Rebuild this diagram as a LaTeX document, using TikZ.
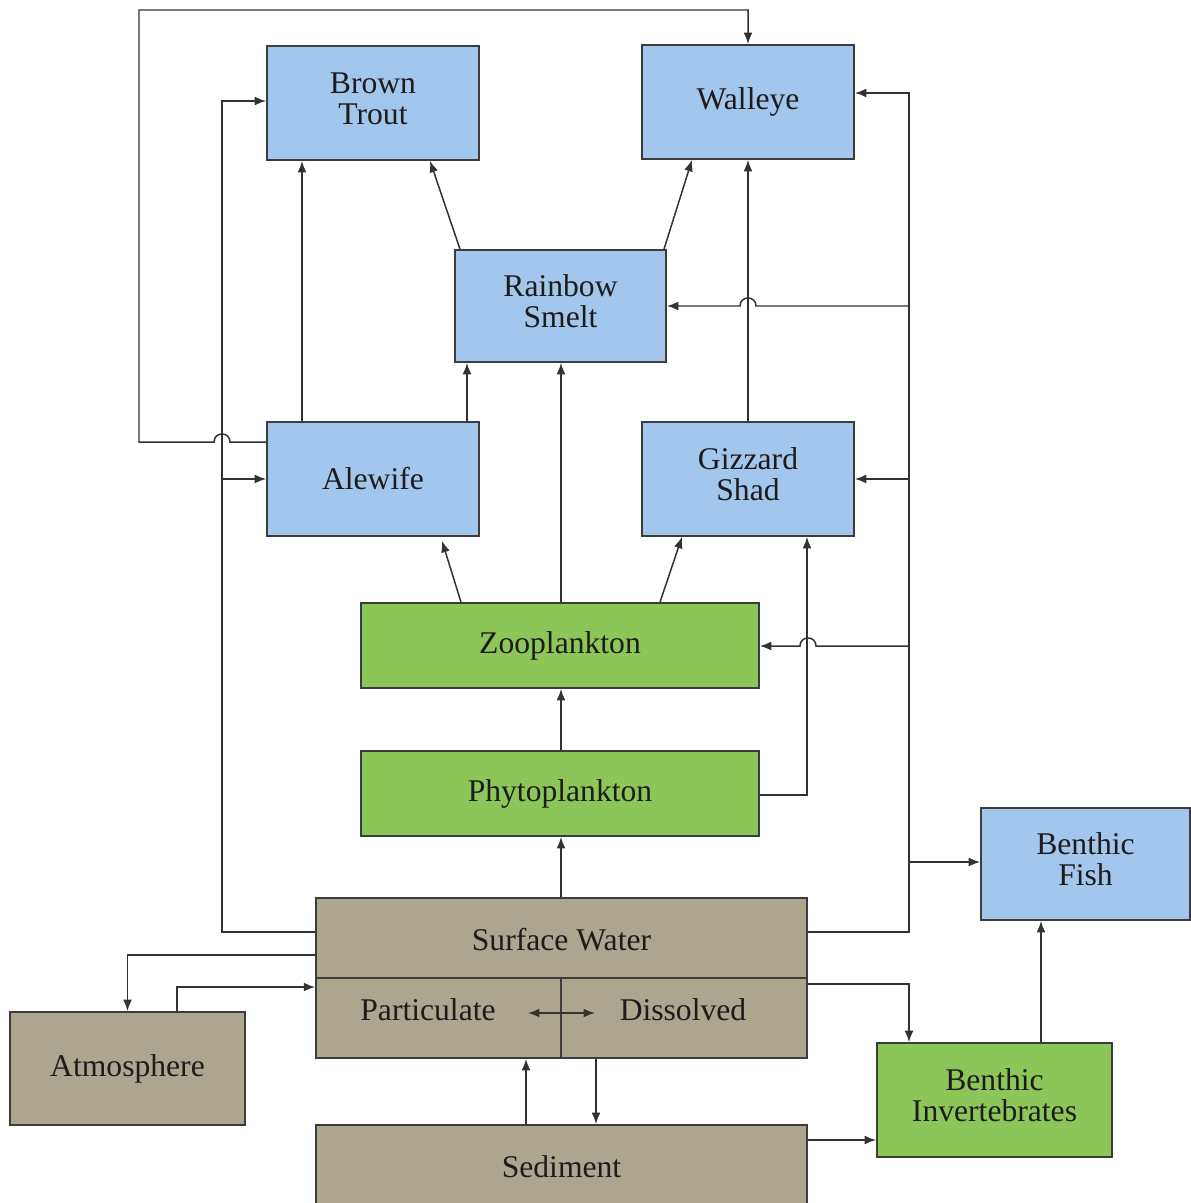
\documentclass[tikz,border=0pt]{standalone}
\usepackage{fontspec}
\setmainfont{Liberation Serif}
\usetikzlibrary{arrows.meta,calc}
\definecolor{fblue}{RGB}{163,198,236}
\definecolor{fgreen}{RGB}{141,198,88}
\definecolor{ftan}{RGB}{171,166,141}
\definecolor{edge}{RGB}{60,60,60}
\definecolor{wire}{RGB}{50,50,50}
\definecolor{ink}{RGB}{28,28,28}
\begin{document}
\begin{tikzpicture}[x=0.02cm,y=-0.02cm,
  box/.style={draw=edge,line width=1pt,inner sep=0pt,align=center,text=ink,
    font=\fontsize{18}{17.5}\selectfont},
  bluebox/.style={box,fill=fblue},
  greenbox/.style={box,fill=fgreen},
  tanbox/.style={box,fill=ftan},
  wirestyle/.style={draw=wire,line width=0.85pt},
  arr/.style={wirestyle,-{Latex[length=6.5pt,width=5pt]}},
  arrtwo/.style={wirestyle,{Latex[length=6.5pt,width=5pt]}-{Latex[length=6.5pt,width=5pt]}},
  lbl/.style={text=ink,font=\fontsize{18}{17.5}\selectfont,inner sep=0pt},
  up/.style={text depth=0pt}
]
\useasboundingbox[fill=white] (0,0) rectangle (1190,1203);

% nodes
\node[bluebox,minimum width=4.24cm,minimum height=2.28cm] (bt) at (373,103) {\raisebox{0.08cm}{\begin{tabular}{@{}c@{}}Brown\\Trout\end{tabular}}};
\node[bluebox,minimum width=4.24cm,minimum height=2.28cm] (wal) at (748,102) {Walleye};
\node[bluebox,minimum width=4.22cm,minimum height=2.24cm] (rs) at (560.5,306) {\raisebox{0.06cm}{\begin{tabular}{@{}c@{}}Rainbow\\Smelt\end{tabular}}};
\node[bluebox,minimum width=4.24cm,minimum height=2.28cm] (ale) at (373,479) {Alewife};
\node[bluebox,minimum width=4.24cm,minimum height=2.28cm] (gs) at (748,479) {\raisebox{0.08cm}{\begin{tabular}{@{}c@{}}Gizzard\\Shad\end{tabular}}};
\node[greenbox,minimum width=7.96cm,minimum height=1.7cm] (zoo) at (560,645.5) {Zooplankton};
\node[greenbox,minimum width=7.96cm,minimum height=1.7cm] (phy) at (560,793.5) {Phytoplankton};
\node[bluebox,minimum width=4.18cm,minimum height=2.24cm] (bf) at (1085.5,864) {\raisebox{0.06cm}{\begin{tabular}{@{}c@{}}Benthic\\Fish\end{tabular}}};
\node[tanbox,minimum width=9.82cm,minimum height=3.2cm] (sw) at (561.5,978) {};
\node[lbl] (swl) at (561.5,940) {Surface Water};
\node[lbl] (part) at (428,1010) {Particulate};
\node[lbl] (diss) at (683,1010) {Dissolved};
\node[tanbox,minimum width=4.7cm,minimum height=2.26cm] (atm) at (127.5,1068.5) {Atmosphere};
\node[tanbox,minimum width=9.82cm,minimum height=1.76cm] (sed) at (561.5,1169) {\raisebox{0.1cm}{Sediment}};
\node[greenbox,minimum width=4.7cm,minimum height=2.28cm] (bi) at (994.5,1100) {\begin{tabular}{@{}c@{}}Benthic\\Invertebrates\end{tabular}};

% surface water dividers
\draw[edge,line width=0.8pt] (sw.west |- 0,978) -- (sw.east |- 0,978);
\draw[edge,line width=0.8pt] (561,978) -- (sw.south -| 561,0);

% top loop: Alewife -> Walleye
\draw[arr] (ale.west |- 0,442) -- (230,442) .. controls (230,431.3) and (214,431.3) .. (214,442) -- (139,442) -- (139,10) -- (748,10) -- (wal.north);

% left trunk from surface water
\draw[arr] (sw.west |- 0,932) -- (222,932) -- (222,101) -- (bt.west |- 0,101);
\draw[arr] (222,479) -- (ale.west);

% surface water <-> atmosphere
\draw[arr] (sw.west |- 0,955) -| (atm.north);
\draw[arr] (atm.north -| 177,0) |- (sw.west |- 0,987);

% particulate <-> dissolved
\coordinate (pd1) at (528,1013);
\coordinate (pd2) at (595,1013);
\draw[arrtwo] (pd1) -- (pd2);

% sediment exchange
\draw[arr] (sed.north -| 526,0) -- (sw.south -| 526,0);
\draw[arr] (sw.south -| 596,0) -- (sed.north -| 596,0);
\draw[arr] (sed.east |- 0,1140) -- (bi.west |- 0,1140);
\draw[arr] (sw.east |- 0,984) -| (bi.north -| 909,0);
\draw[arr] (bi.north -| 1041,0) -- (bf.south -| 1041,0);

% right trunk from surface water
\draw[arr] (sw.east |- 0,932) -| (909,93) -- (wal.east |- 0,93);
\draw[arr] (909,306) -- (756,306) .. controls (756,295.3) and (740,295.3) .. (740,306) -- (rs.east |- 0,306);
\draw[arr] (909,479) -- (gs.east |- 0,479);
\draw[arr] (909,646) -- (816,646) .. controls (816,635.3) and (800,635.3) .. (800,646) -- (zoo.east |- 0,646);
\draw[arr] (909,862) -- (bf.west |- 0,862);

% food web links
\draw[arr] (gs.north) -- (wal.south);
\draw[arr] (phy.east |- 0,795) -| (gs.south -| 807,0);
\draw[arr] (ale.north -| 302,0) -- (bt.south -| 302,0);
\draw[arr] (ale.north -| 467,0) -- (rs.south -| 467,0);
\draw[arr] (rs.north -| 460,0) -- (bt.south -| 430,0);
\draw[arr] (rs.north -| 664,0) -- (wal.south -| 692,0);
\draw[arr] (zoo.north -| 461,0) -- ($(ale.south -| 442,0)+(0,4)$);
\draw[arr] (zoo.north -| 561,0) -- (rs.south -| 561,0);
\draw[arr] (zoo.north -| 660,0) -- (gs.south -| 682,0);
\draw[arr] (phy.north -| 561,0) -- (zoo.south -| 561,0);
\draw[arr] (sw.north -| 561,0) -- (phy.south -| 561,0);
\end{tikzpicture}
\end{document}
